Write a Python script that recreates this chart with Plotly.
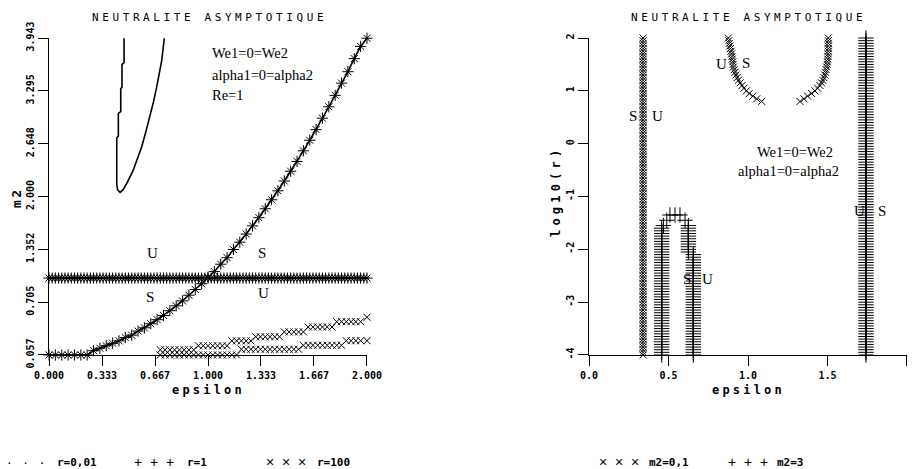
import plotly.graph_objects as go

# ---------------- LEFT PANEL DATA (epsilon vs m2) ----------------
eps_grid = [0.00, 0.02, 0.04, 0.06, 0.08, 0.10, 0.12, 0.14, 0.16, 0.18, 0.20, 0.22, 0.24, 0.26, 0.28,
            0.30, 0.32, 0.34, 0.36, 0.38, 0.40, 0.42, 0.44, 0.46, 0.48, 0.50, 0.52, 0.54, 0.56, 0.58,
            0.60, 0.62, 0.64, 0.66, 0.68, 0.70, 0.72, 0.74, 0.76, 0.78, 0.80, 0.82, 0.84, 0.86, 0.88,
            0.90, 0.92, 0.94, 0.96, 0.98, 1.00, 1.02, 1.04, 1.06, 1.08, 1.10, 1.12, 1.14, 1.16, 1.18,
            1.20, 1.22, 1.24, 1.26, 1.28, 1.30, 1.32, 1.34, 1.36, 1.38, 1.40, 1.42, 1.44, 1.46, 1.48,
            1.50, 1.52, 1.54, 1.56, 1.58, 1.60, 1.62, 1.64, 1.66, 1.68, 1.70, 1.72, 1.74, 1.76, 1.78,
            1.80, 1.82, 1.84, 1.86, 1.88, 1.90, 1.92, 1.94, 1.96, 1.98, 2.00]
neutral_m2 = 1.0

curve_eps = [0.00, 0.04, 0.08, 0.12, 0.16, 0.20, 0.24, 0.28, 0.32, 0.36, 0.40, 0.44, 0.48, 0.52,
             0.56, 0.60, 0.64, 0.68, 0.72, 0.76, 0.80, 0.84, 0.88, 0.92, 0.96, 1.00, 1.04, 1.08,
             1.12, 1.16, 1.20, 1.24, 1.28, 1.32, 1.36, 1.40, 1.44, 1.48, 1.52, 1.56, 1.60, 1.64,
             1.68, 1.72, 1.76, 1.80, 1.84, 1.88, 1.92, 1.96, 2.00]
curve_m2 = [0.057, 0.057, 0.057, 0.057, 0.057, 0.057, 0.057, 0.11, 0.14, 0.17, 0.20, 0.23, 0.27, 0.30,
            0.35, 0.39, 0.44, 0.49, 0.54, 0.60, 0.66, 0.72, 0.79, 0.86, 0.93, 1.01, 1.08, 1.17,
            1.25, 1.35, 1.44, 1.54, 1.64, 1.74, 1.85, 1.96, 2.07, 2.19, 2.31, 2.43, 2.56, 2.69,
            2.82, 2.96, 3.10, 3.24, 3.39, 3.53, 3.69, 3.84, 3.94]

u_eps = [0.472, 0.472, 0.472, 0.459, 0.459, 0.459, 0.451, 0.451, 0.451, 0.436, 0.436, 0.436,
         0.426, 0.426, 0.426, 0.426, 0.426, 0.432, 0.447, 0.465, 0.489, 0.529, 0.556, 0.583,
         0.610, 0.635, 0.657, 0.677, 0.694, 0.709, 0.718, 0.725]
u_m2 = [3.94, 3.78, 3.64, 3.62, 3.48, 3.34, 3.32, 3.18, 3.04, 3.02, 2.88, 2.74,
        2.72, 2.56, 2.40, 2.25, 2.15, 2.08, 2.05, 2.08, 2.16, 2.32, 2.46, 2.61,
        2.80, 2.98, 3.16, 3.34, 3.50, 3.67, 3.82, 3.94]

r100_up_eps = [0.70, 0.73, 0.76, 0.79, 0.82, 0.85, 0.88, 0.91, 0.94, 0.97, 1.00, 1.03, 1.06, 1.09,
               1.12, 1.15, 1.18, 1.21, 1.24, 1.27, 1.30, 1.33, 1.36, 1.39, 1.42, 1.45, 1.48, 1.51,
               1.54, 1.57, 1.60, 1.63, 1.66, 1.69, 1.72, 1.75, 1.78, 1.81, 1.84, 1.87, 1.90, 1.93,
               1.96, 2.00]
r100_up_m2 = [0.12, 0.12, 0.12, 0.12, 0.12, 0.12, 0.12, 0.12, 0.17, 0.17, 0.17, 0.17, 0.17, 0.17,
              0.17, 0.23, 0.23, 0.23, 0.23, 0.23, 0.28, 0.28, 0.28, 0.28, 0.28, 0.28, 0.34, 0.34,
              0.34, 0.34, 0.34, 0.40, 0.40, 0.40, 0.40, 0.40, 0.40, 0.465, 0.465, 0.465, 0.465, 0.465,
              0.465, 0.52]
r100_lo_eps = [0.70, 0.73, 0.76, 0.79, 0.82, 0.85, 0.88, 0.91, 0.94, 0.97, 1.00, 1.03, 1.06, 1.09,
               1.12, 1.15, 1.18, 1.21, 1.24, 1.27, 1.30, 1.33, 1.36, 1.39, 1.42, 1.45, 1.48, 1.51,
               1.54, 1.57, 1.60, 1.63, 1.66, 1.69, 1.72, 1.75, 1.78, 1.81, 1.84, 1.87, 1.90, 1.93,
               1.96, 2.00]
r100_lo_m2 = [0.057, 0.057, 0.057, 0.057, 0.057, 0.057, 0.057, 0.057, 0.057, 0.057, 0.057, 0.057,
              0.057, 0.057, 0.057, 0.057, 0.057, 0.127, 0.127, 0.127, 0.127, 0.127, 0.127, 0.127,
              0.127, 0.127, 0.127, 0.127, 0.127, 0.127, 0.176, 0.176, 0.176, 0.176, 0.176, 0.176,
              0.176, 0.176, 0.176, 0.232, 0.232, 0.232, 0.232, 0.232]

left_xticks = [0.0, 0.3333, 0.6667, 1.0, 1.3333, 1.6667, 2.0]
left_xticktext = ["0.000", "0.333", "0.667", "1.000", "1.333", "1.667", "2.000"]
left_yticks = [0.057, 0.7047, 1.3523, 2.0, 2.6477, 3.2953, 3.943]
left_yticktext = ["0.057", "0.705", "1.352", "2.000", "2.648", "3.295", "3.943"]

# ---------------- RIGHT PANEL DATA (epsilon vs log10(r)) ----------------
logr_grid = [-4.00, -3.95, -3.90, -3.85, -3.80, -3.75, -3.70, -3.65, -3.60, -3.55, -3.50, -3.45,
             -3.40, -3.35, -3.30, -3.25, -3.20, -3.15, -3.10, -3.05, -3.00, -2.95, -2.90, -2.85,
             -2.80, -2.75, -2.70, -2.65, -2.60, -2.55, -2.50, -2.45, -2.40, -2.35, -2.30, -2.25,
             -2.20, -2.15, -2.10, -2.05, -2.00, -1.95, -1.90, -1.85, -1.80, -1.75, -1.70, -1.65,
             -1.60, -1.55, -1.50, -1.45, -1.40, -1.35, -1.30, -1.25, -1.20, -1.15, -1.10, -1.05,
             -1.00, -0.95, -0.90, -0.85, -0.80, -0.75, -0.70, -0.65, -0.60, -0.55, -0.50, -0.45,
             -0.40, -0.35, -0.30, -0.25, -0.20, -0.15, -0.10, -0.05, 0.00, 0.05, 0.10, 0.15,
             0.20, 0.25, 0.30, 0.35, 0.40, 0.45, 0.50, 0.55, 0.60, 0.65, 0.70, 0.75,
             0.80, 0.85, 0.90, 0.95, 1.00, 1.05, 1.10, 1.15, 1.20, 1.25, 1.30, 1.35,
             1.40, 1.45, 1.50, 1.55, 1.60, 1.65, 1.70, 1.75, 1.80, 1.85, 1.90, 1.95, 2.00]

m01_col_eps = 0.340
m3_col_eps = 1.742

m01_left_eps = [0.876, 0.879, 0.883, 0.886, 0.889, 0.893, 0.897, 0.899, 0.901, 0.904, 0.906, 0.908,
                0.913, 0.918, 0.924, 0.932, 0.940, 0.950, 0.962, 0.975, 0.990, 1.008, 1.030, 1.055, 1.086]
m01_left_logr = [2.00, 1.95, 1.90, 1.85, 1.80, 1.75, 1.70, 1.65, 1.60, 1.55, 1.50, 1.45,
                 1.40, 1.35, 1.30, 1.25, 1.20, 1.15, 1.10, 1.05, 1.00, 0.95, 0.90, 0.85, 0.80]
m01_right_eps = [1.327, 1.352, 1.375, 1.400, 1.421, 1.438, 1.453, 1.463, 1.471, 1.477, 1.483, 1.488,
                 1.492, 1.495, 1.498, 1.500, 1.502, 1.503, 1.504, 1.505, 1.505, 1.505, 1.505, 1.505, 1.505]
m01_right_logr = [0.80, 0.85, 0.90, 0.95, 1.00, 1.05, 1.10, 1.15, 1.20, 1.25, 1.30, 1.35,
                  1.40, 1.45, 1.50, 1.55, 1.60, 1.65, 1.70, 1.75, 1.80, 1.85, 1.90, 1.95, 2.00]

arch_left_eps = 0.457      # left leg, log10(r) <= -1.60
arch_top_eps = [0.468, 0.489, 0.509, 0.541, 0.572, 0.604]
arch_top_logr = [-1.55, -1.45, -1.35, -1.35, -1.35, -1.45]
arch_mid_eps = 0.625       # -2.05 <= log10(r) <= -1.55
arch_right_eps = 0.656     # log10(r) <= -2.10

right_xticks = [0.0, 0.5, 1.0, 1.5, 2.0]
right_xticktext = ["0.0", "0.5", "1.0", "1.5", "2.0"]
right_yticks = [-4, -3, -2, -1, 0, 1, 2]
right_yticktext = ["-4", "-3", "-2", "-1", "0", "1", "2"]

# ---------------- FIGURE ----------------
W, H = 913, 469
BLACK = "#000000"
MONO = "DejaVu Sans Mono"
SERIF = "Liberation Serif"
SANS = "Liberation Sans"

def px(x, y):
    return x / W, 1 - y / H

fig = go.Figure()

def plus_trace(x, y, xa, ya, size):
    return go.Scatter(x=x, y=y, mode="markers", xaxis=xa, yaxis=ya, cliponaxis=False,
                      showlegend=False, hoverinfo="skip",
                      marker=dict(symbol="cross-thin-open", size=size, color=BLACK,
                                  line=dict(color=BLACK, width=1)))

def cross_trace(x, y, xa, ya, size):
    return go.Scatter(x=x, y=y, mode="markers", xaxis=xa, yaxis=ya, cliponaxis=False,
                      showlegend=False, hoverinfo="skip",
                      marker=dict(symbol="x-thin-open", size=size, color=BLACK,
                                  line=dict(color=BLACK, width=1)))

def dot_trace(x, y, xa, ya):
    return go.Scatter(x=x, y=y, mode="lines", xaxis=xa, yaxis=ya, cliponaxis=False,
                      showlegend=False, hoverinfo="skip",
                      line=dict(color=BLACK, width=1.6))

hline_m2 = [neutral_m2 for _ in eps_grid]

# r = 0.01 (dots)
fig.add_trace(dot_trace(eps_grid, hline_m2, "x", "y"))
fig.add_trace(dot_trace(curve_eps, curve_m2, "x", "y"))
fig.add_trace(dot_trace(u_eps, u_m2, "x", "y"))
# r = 1 (+)
fig.add_trace(plus_trace(eps_grid, hline_m2, "x", "y", 8))
fig.add_trace(plus_trace(curve_eps, curve_m2, "x", "y", 8))
# r = 100 (x)
fig.add_trace(cross_trace(eps_grid, hline_m2, "x", "y", 7))
fig.add_trace(cross_trace(curve_eps, curve_m2, "x", "y", 7))
fig.add_trace(cross_trace(r100_up_eps, r100_up_m2, "x", "y", 7))
fig.add_trace(cross_trace(r100_lo_eps, r100_lo_m2, "x", "y", 7))

# m2 = 0.1 (x)
fig.add_trace(cross_trace([m01_col_eps for _ in logr_grid], logr_grid, "x2", "y2", 7))
fig.add_trace(cross_trace(m01_left_eps, m01_left_logr, "x2", "y2", 7))
fig.add_trace(cross_trace(m01_right_eps, m01_right_logr, "x2", "y2", 7))
# m2 = 3 (+)
fig.add_trace(plus_trace([m3_col_eps for _ in logr_grid], logr_grid, "x2", "y2", 11))
arch_x, arch_y = [], []
for v in logr_grid:
    if v <= -1.60:
        arch_x.append(arch_left_eps); arch_y.append(v)
arch_x += arch_top_eps; arch_y += arch_top_logr
for v in reversed(logr_grid):
    if -2.05 <= v <= -1.55:
        arch_x.append(arch_mid_eps); arch_y.append(v)
for v in reversed(logr_grid):
    if v <= -2.10:
        arch_x.append(arch_right_eps); arch_y.append(v)
fig.add_trace(plus_trace(arch_x, arch_y, "x2", "y2", 11))

axis_common = dict(showgrid=False, zeroline=False, showline=True, linecolor=BLACK, linewidth=1,
                   ticks="outside", ticklen=10, tickwidth=1, tickcolor=BLACK, automargin=False,
                   tickfont=dict(family=MONO, size=10, color=BLACK, weight="bold"),
                   tickmode="array")

fig.update_layout(
    template="none",
    width=W, height=H, margin=dict(l=0, r=0, t=0, b=0, autoexpand=False),
    paper_bgcolor="white", plot_bgcolor="white",
    xaxis=dict(domain=[49 / W, 367 / W], range=[-0.0002, 2.0002], anchor="y",
               tickvals=left_xticks, ticktext=left_xticktext, ticklabelstandoff=1, **axis_common),
    yaxis=dict(domain=[1 - 355 / H, 1 - 38 / H], range=[0.0568, 3.9432], anchor="x",
               tickvals=left_yticks, ticktext=left_yticktext, tickangle=-90, **axis_common),
    xaxis2=dict(domain=[589 / W, 907 / W], range=[-0.0002, 2.0002], anchor="y2",
                tickvals=right_xticks, ticktext=right_xticktext, ticklabelstandoff=1, **axis_common),
    yaxis2=dict(domain=[1 - 355 / H, 1 - 38 / H], range=[-4.0003, 2.0003], anchor="x2",
                tickvals=right_yticks, ticktext=right_yticktext, tickangle=-90, **axis_common),
)

ann = []

def ptext(text, x, y, size, family=MONO, xanchor="center", angle=0, spacing=None, bold=False):
    t = text
    if spacing is not None:
        t = '<span style="letter-spacing:%spx">%s</span>' % (spacing, text)
    if bold:
        t = "<b>" + t + "</b>"
    xx, yy = px(x, y)
    ann.append(dict(text=t, x=xx, y=yy, xref="paper", yref="paper", showarrow=False,
                    xanchor=xanchor, yanchor="middle", textangle=angle,
                    font=dict(family=family, size=size, color=BLACK)))

def dtext(text, x, y, xa, ya, size=15, xanchor="center"):
    ann.append(dict(text=text, x=x, y=y, xref=xa, yref=ya, showarrow=False,
                    xanchor=xanchor, yanchor="middle",
                    font=dict(family=SERIF, size=size, color=BLACK)))

# titles
ptext("NEUTRALITE ASYMPTOTIQUE", 209, 17, 11, spacing=3.6)
ptext("NEUTRALITE ASYMPTOTIQUE", 748, 17, 11, spacing=3.6)
# axis titles
ptext("epsilon", 208, 390, 12, spacing=3.2, bold=True)
ptext("epsilon", 748, 390, 12, spacing=3.2, bold=True)
ptext("m2", 16, 198, 13, angle=-90, spacing=2.5, bold=True)
ptext("log10(r)", 556, 192, 12, angle=-90, spacing=4.2, bold=True)

# left panel labels
dtext("U", 0.648, 1.31, "x", "y")
dtext("S", 1.34, 1.31, "x", "y")
dtext("S", 0.635, 0.77, "x", "y")
dtext("U", 1.346, 0.82, "x", "y")
dtext("We1=0=We2", 1.013, 3.76, "x", "y", 14.5, "left")
dtext("alpha1=0=alpha2", 1.013, 3.49, "x", "y", 14.5, "left")
dtext("Re=1", 1.013, 3.24, "x", "y", 14.5, "left")

# right panel labels
dtext("U", 0.836, 1.515, "x2", "y2")
dtext("S", 0.987, 1.53, "x2", "y2")
dtext("S", 0.277, 0.53, "x2", "y2")
dtext("U", 0.428, 0.53, "x2", "y2")
dtext("We1=0=We2", 1.296, -0.15, "x2", "y2", 14.5)
dtext("alpha1=0=alpha2", 1.252, -0.51, "x2", "y2", 14.5)
dtext("U", 1.70, -1.27, "x2", "y2")
dtext("S", 1.843, -1.27, "x2", "y2")
dtext("S", 0.616, -2.56, "x2", "y2")
dtext("U", 0.748, -2.56, "x2", "y2")

# legends
ptext("·   ·   ·", 5, 462, 14, family=SANS, xanchor="left")
ptext("r=0,01", 55, 462, 11, xanchor="left", bold=True)
ptext("+  +  +", 132, 462, 14, family=SANS, xanchor="left")
ptext("r=1", 185, 462, 11, xanchor="left", bold=True)
ptext("×  ×  ×", 264, 462, 14, family=SANS, xanchor="left")
ptext("r=100", 315, 462, 11, xanchor="left", bold=True)
ptext("×  ×  ×", 597, 462, 14, family=SANS, xanchor="left")
ptext("m2=0,1", 647, 462, 11, xanchor="left", bold=True)
ptext("+  +  +", 726, 462, 14, family=SANS, xanchor="left")
ptext("m2=3", 775, 462, 11, xanchor="left", bold=True)

fig.update_layout(annotations=ann)
fig.write_html("out.html")
